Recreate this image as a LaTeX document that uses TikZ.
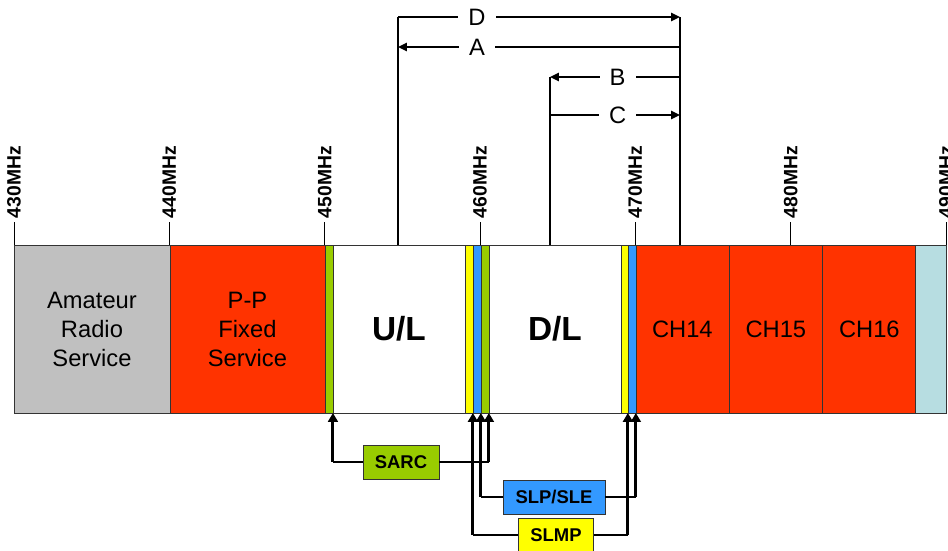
\documentclass[tikz,border=0pt]{standalone}
\usepackage{fontspec}
\setmainfont{Liberation Sans}
\usetikzlibrary{positioning,arrows.meta}
\definecolor{amgray}{HTML}{C0C0C0}
\definecolor{ppred}{HTML}{FF3300}
\definecolor{sarcgreen}{HTML}{99CC00}
\definecolor{slpblue}{HTML}{3399FF}
\definecolor{slmpyel}{HTML}{FFFF00}
\definecolor{tvcyan}{HTML}{B7DDE1}

\begin{document}
\begin{tikzpicture}[x=0.02cm, y=-0.02cm,
    seg/.style={draw=black!80, thin, minimum height=3.36cm, inner sep=0pt, outer sep=0pt,
      align=center, font=\fontsize{13.5}{16.5}\selectfont},
    band/.style={seg, font=\fontsize{19}{22}\selectfont\bfseries},
    freq/.style={font=\fontsize{11}{12}\selectfont\bfseries, inner sep=2pt},
    vline/.style={line width=0.8pt},
    dim/.style={line width=1.4pt, -{Triangle[length=5pt,width=4.5pt]}},
    dimlab/.style={fill=white, font=\fontsize{13.5}{16}\selectfont, inner xsep=0.2cm, inner ysep=0pt},
    tag/.style={draw=black!80, thin, minimum height=0.68cm, font=\fontsize{10.5}{12}\selectfont\bfseries},
    feed/.style={line width=0.8pt},
    feedup/.style={line width=1.7pt, -{Triangle[length=5pt,width=5.5pt]}},
  ]
  \useasboundingbox (0,0) rectangle (948,551);

  % frequency band
  \node[seg, fill=amgray, minimum width=3.12cm, anchor=north west] (amat) at (14,245) {Amateur\\Radio\\Service};
  \node[seg, fill=ppred, minimum width=3.10cm, right=0pt of amat] (pp) {P-P\\Fixed\\Service};
  \node[seg, fill=sarcgreen, minimum width=0.16cm, right=0pt of pp] (g450) {};
  \node[band, fill=white, minimum width=2.64cm, right=0pt of g450] (ul) {U/L};
  \node[seg, fill=slmpyel, minimum width=0.16cm, right=0pt of ul] (y460) {};
  \node[seg, fill=slpblue, minimum width=0.16cm, right=0pt of y460] (b460) {};
  \node[seg, fill=sarcgreen, minimum width=0.16cm, right=0pt of b460] (g460) {};
  \node[band, fill=white, minimum width=2.64cm, right=0pt of g460] (dl) {D/L};
  \node[seg, fill=slmpyel, minimum width=0.14cm, right=0pt of dl] (y470) {};
  \node[seg, fill=slpblue, minimum width=0.16cm, right=0pt of y470] (b470) {};
  \node[seg, fill=ppred, minimum width=1.86cm, right=0pt of b470] (ch14) {CH14};
  \node[seg, fill=ppred, minimum width=1.88cm, right=0pt of ch14] (ch15) {CH15};
  \node[seg, fill=ppred, minimum width=1.86cm, right=0pt of ch15] (ch16) {CH16};
  \node[seg, fill=tvcyan, minimum width=0.62cm, right=0pt of ch16] (ch17) {};

  % frequency ticks
  \foreach \f [count=\i from 0] in {430,440,...,490}
    \draw[thin] (14+\i*155.33,245) -- ++(0,-23) node[freq, rotate=90, anchor=west] (f\f) {\f MHz};

  % U/L - D/L spacing
  \coordinate (tapU) at (398,245);
  \coordinate (tapD) at (550,245);
  \coordinate (tapC) at (680,245);
  \coordinate (rowD) at (0,17);
  \coordinate (rowA) at (0,47);
  \coordinate (rowB) at (0,77);
  \coordinate (rowC) at (0,115);
  \draw[vline] (tapU) -- (tapU |- rowD);
  \draw[vline] (tapC) -- (tapC |- rowD);
  \draw[vline] (tapD) -- (tapD |- rowB);
  \draw[dim] (tapU |- rowD) -- (tapC |- rowD) node[dimlab, pos=0.28] {D};
  \draw[dim] (tapC |- rowA) -- (tapU |- rowA) node[dimlab, pos=0.72] {A};
  \draw[dim] (tapC |- rowB) -- (tapD |- rowB) node[dimlab, pos=0.48] {B};
  \draw[dim] (tapD |- rowC) -- (tapC |- rowC) node[dimlab, pos=0.52] {C};

  % services
  \node[tag, fill=sarcgreen, minimum width=1.52cm] (sarc) at (401,462) {SARC};
  \node[tag, fill=slpblue, minimum width=2.04cm] (slp) at (554,497) {SLP/SLE};
  \node[tag, fill=slmpyel, minimum width=1.50cm] (slmp) at (556,535) {SLMP};
  \foreach \svc/\side/\strip in {sarc/west/g450, sarc/east/g460, slp/west/b460,
      slp/east/b470, slmp/west/y460, slmp/east/y470} {
    \draw[feed] (\svc.\side) -- (\svc.\side -| \strip.south east);
    \draw[feedup] (\svc.\side -| \strip.south east) -- (\strip.south east);
  }
\end{tikzpicture}
\end{document}
